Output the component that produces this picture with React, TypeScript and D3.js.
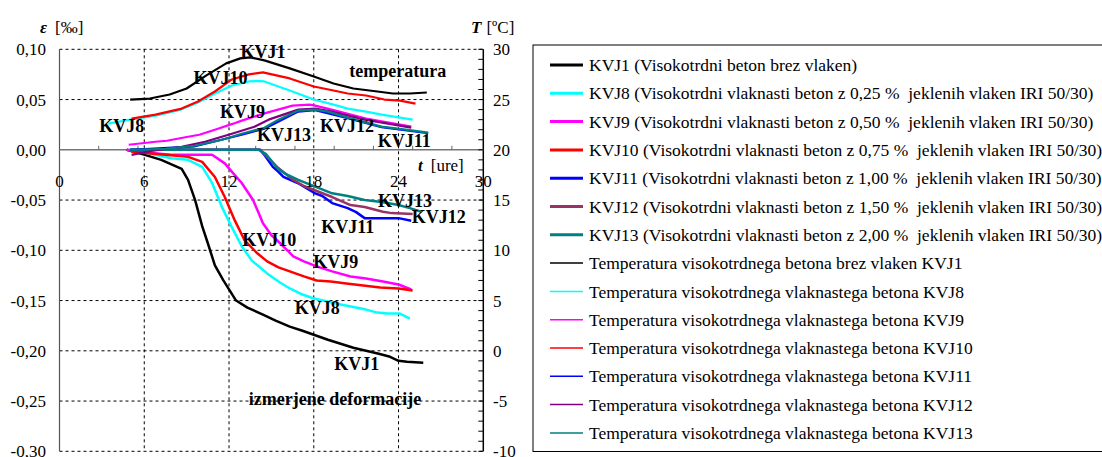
import React from "react";
import * as d3 from "d3";

type P = [number, number];

// ---- Data (t in hours; strain in ‰; temperature in °C) ----
const strainKVJ1: P[] = [[4.75,0],[6.05,-0.005],[7.2,-0.010],[8.65,-0.019],[9.1,-0.030],[9.6,-0.050],[10.1,-0.076],[10.5,-0.093],[11.0,-0.115],[11.6,-0.130],[12.5,-0.150],[13.3,-0.157],[14.4,-0.164],[15.3,-0.170],[16.3,-0.176],[17.2,-0.180],[18.0,-0.184],[19.0,-0.189],[19.9,-0.193],[20.8,-0.197],[21.7,-0.200],[22.6,-0.203],[23.4,-0.206],[24.0,-0.210],[24.6,-0.211],[25.75,-0.212]];
const strainKVJ8: P[] = [[4.9,0],[6.3,-0.0035],[7.9,-0.0085],[9.1,-0.010],[10.1,-0.017],[10.8,-0.033],[11.5,-0.057],[12.2,-0.077],[12.9,-0.096],[13.6,-0.110],[14.7,-0.123],[15.5,-0.131],[16.3,-0.138],[17.2,-0.144],[18.0,-0.148],[19.0,-0.151],[19.9,-0.154],[21.7,-0.159],[22.5,-0.162],[23.2,-0.163],[24.1,-0.163],[24.8,-0.168]];
const strainKVJ9: P[] = [[4.75,0],[6.3,-0.003],[7.9,-0.005],[10.8,-0.005],[11.7,-0.0135],[12.3,-0.0235],[12.9,-0.033],[13.7,-0.050],[14.1,-0.063],[14.4,-0.073],[15.0,-0.085],[15.4,-0.090],[16.55,-0.106],[17.3,-0.111],[18.2,-0.116],[19.3,-0.121],[20.6,-0.126],[21.7,-0.128],[22.9,-0.131],[24.0,-0.134],[24.9,-0.139]];
const strainKVJ10: P[] = [[5.1,-0.002],[7.5,-0.005],[9.1,-0.007],[10.1,-0.012],[11.0,-0.027],[11.7,-0.047],[12.4,-0.070],[13.1,-0.090],[14.0,-0.103],[14.7,-0.111],[15.5,-0.117],[16.3,-0.121],[17.3,-0.126],[18.2,-0.130],[19.2,-0.131],[20.3,-0.133],[21.5,-0.135],[22.7,-0.137],[24.0,-0.138],[25.0,-0.140]];
const strainKVJ11: P[] = [[5.0,0],[14.2,0],[14.5,-0.005],[15.1,-0.017],[15.5,-0.022],[15.85,-0.027],[16.9,-0.0333],[18.1,-0.0433],[18.6,-0.046],[19.3,-0.053],[20.4,-0.058],[21.0,-0.062],[21.6,-0.068],[24.0,-0.068],[24.9,-0.0705]];
const strainKVJ12: P[] = [[5.0,0],[14.2,0],[15.4,-0.017],[16.55,-0.030],[17.3,-0.036],[18.2,-0.041],[19.3,-0.047],[20.6,-0.055],[21.6,-0.057],[22.9,-0.0616],[23.5,-0.063],[25.0,-0.064]];
const strainKVJ13: P[] = [[5.0,0],[14.1,0],[14.6,-0.004],[15.4,-0.018],[16.0,-0.024],[16.9,-0.030],[18.1,-0.0367],[19.3,-0.0433],[20.4,-0.046],[21.6,-0.050],[22.8,-0.052],[24.0,-0.055],[24.8,-0.058],[25.6,-0.0616]];

const tempKVJ1: P[] = [[5.0,25.0],[6.4,25.1],[7.8,25.5],[9.0,26.1],[10.4,27.4],[11.8,28.6],[12.8,29.1],[13.5,29.2],[14.5,28.9],[16.3,28.1],[18.0,27.3],[19.4,26.6],[20.8,26.1],[22.5,25.8],[23.6,25.6],[24.8,25.6],[26.0,25.7]];
const tempKVJ8: P[] = [[3.45,22.6],[5.0,23.0],[6.8,23.4],[8.6,24.0],[9.8,24.7],[11.0,25.6],[12.2,26.4],[13.4,26.8],[14.0,26.85],[14.5,26.8],[16.3,25.9],[18.0,25.0],[19.4,24.5],[20.4,24.1],[21.7,23.8],[22.8,23.5],[25.0,23.0]];
const tempKVJ9: P[] = [[4.9,20.5],[6.8,20.8],[7.6,20.9],[9.1,21.3],[9.9,21.5],[11.0,22.0],[12.3,22.6],[12.9,22.9],[14.7,23.7],[16.5,24.4],[17.7,24.5],[18.1,24.4],[19.4,23.95],[21.7,23.1],[24.9,22.3]];
const tempKVJ10: P[] = [[5.1,23.1],[6.8,23.5],[8.65,24.1],[9.8,24.8],[11.0,25.8],[12.2,27.0],[13.4,27.5],[14.4,27.7],[16.3,27.1],[18.0,26.3],[19.4,25.9],[20.4,25.6],[21.7,25.4],[23.0,25.0],[24.1,24.9],[25.2,24.6]];
const tempKVJ11: P[] = [[5.1,20.0],[9.6,20.35],[12.9,21.5],[14.5,22.1],[16.9,23.8],[18.1,23.95],[20.4,23.15],[22.8,22.25],[26.1,21.65]];
const tempKVJ12: P[] = [[5.1,19.5],[6.5,19.9],[8.65,20.3],[10.3,20.8],[12.2,21.6],[13.8,22.3],[14.8,23.0],[16.9,24.0],[18.1,24.1],[19.3,23.8],[21.6,23.0],[24.9,22.2]];
const tempKVJ13: P[] = [[5.1,20.0],[7.5,20.1],[9.6,20.4],[11.5,21.0],[12.9,21.6],[14.5,22.2],[15.5,23.0],[16.9,23.9],[18.1,24.0],[19.0,23.8],[20.4,23.2],[22.8,22.3],[24.5,22.0],[26.1,21.7]];

const strainColors = ["#000000","#00FFFF","#FF00FF","#FF0000","#0000FF","#993366","#008080"];
const tempColors = ["#000000","#00FFFF","#FF00FF","#FF0000","#0000FF","#800080","#008080"];
const strainData = [strainKVJ1,strainKVJ8,strainKVJ9,strainKVJ10,strainKVJ11,strainKVJ12,strainKVJ13];
const tempData = [tempKVJ1,tempKVJ8,tempKVJ9,tempKVJ10,tempKVJ11,tempKVJ12,tempKVJ13];

const strainLegend = [
  "KVJ1 (Visokotrdni beton brez vlaken)",
  "KVJ8 (Visokotrdni vlaknasti beton z 0,25 %  jeklenih vlaken IRI 50/30)",
  "KVJ9 (Visokotrdni vlaknasti beton z 0,50 %  jeklenih vlaken IRI 50/30)",
  "KVJ10 (Visokotrdni vlaknasti beton z 0,75 %  jeklenih vlaken IRI 50/30)",
  "KVJ11 (Visokotrdni vlaknasti beton z 1,00 %  jeklenih vlaken IRI 50/30)",
  "KVJ12 (Visokotrdni vlaknasti beton z 1,50 %  jeklenih vlaken IRI 50/30)",
  "KVJ13 (Visokotrdni vlaknasti beton z 2,00 %  jeklenih vlaken IRI 50/30)",
];
const tempLegend = [
  "Temperatura visokotrdnega betona brez vlaken KVJ1",
  "Temperatura visokotrdnega vlaknastega betona KVJ8",
  "Temperatura visokotrdnega vlaknastega betona KVJ9",
  "Temperatura visokotrdnega vlaknastega betona KVJ10",
  "Temperatura visokotrdnega vlaknastega betona KVJ11",
  "Temperatura visokotrdnega vlaknastega betona KVJ12",
  "Temperatura visokotrdnega vlaknastega betona KVJ13",
];

const xTicks = [0, 6, 12, 18, 24, 30];
const yTicks = [0.10, 0.05, 0.00, -0.05, -0.10, -0.15, -0.20, -0.25, -0.30];
const tTicks = [30, 25, 20, 15, 10, 5, 0, -5, -10];

// in-plot labels: [text, t, strain]
const curveLabels: [string, number, number][] = [
  ["KVJ1", 14.4, 0.0975],
  ["KVJ10", 11.4, 0.0715],
  ["temperatura", 23.95, 0.0785],
  ["KVJ8", 4.4, 0.0235],
  ["KVJ9", 12.95, 0.0375],
  ["KVJ13", 15.9, 0.0155],
  ["KVJ12", 20.35, 0.0235],
  ["KVJ11", 24.4, 0.0095],
  ["KVJ13", 24.45, -0.0505],
  ["KVJ12", 26.85, -0.0665],
  ["KVJ11", 20.4, -0.0765],
  ["KVJ10", 14.85, -0.0895],
  ["KVJ9", 19.55, -0.1115],
  ["KVJ8", 18.25, -0.1575],
  ["KVJ1", 21.05, -0.2125],
  ["izmerjene deformacije", 19.5, -0.2475],
];

const W = 1102, H = 457;
const FONT = "'Liberation Serif', 'Times New Roman', 'DejaVu Serif', serif";

export default function App() {
  const x = d3.scaleLinear().domain([0, 30]).range([59.5, 483.3]);
  const y = d3.scaleLinear().domain([-0.30, 0.10]).range([451.3, 49.3]);
  const yT = d3.scaleLinear().domain([-10, 30]).range([451.3, 49.3]);
  const strainLine = d3.line<P>().x(d => x(d[0])).y(d => y(d[1]));
  const tempLine = d3.line<P>().x(d => x(d[0])).y(d => yT(d[1]));

  const minorX = d3.range(1, 11).map(k => (k * 10000) / 3600);
  const minorT = d3.range(-10, 31, 1);

  const legX = 533, legTop = 45, legBottom = 451.5, rowY0 = 65, rowStep = 28.3;

  return (
    <div style={{ position: "absolute", left: 0, top: 0, fontFamily: FONT }}>
      <svg width={W} height={H} style={{ display: "block", background: "#fff", fontFamily: FONT }}>
        {/* grid lines */}
        {yTicks.filter(v => v !== 0).map(v => (
          <line key={"gy" + v} x1={x(0)} x2={x(30)} y1={y(v)} y2={y(v)} stroke="#000" strokeWidth={1} strokeDasharray="3,3" />
        ))}
        {xTicks.filter(v => v !== 0 && v !== 30).map(v => (
          <line key={"gx" + v} x1={x(v)} x2={x(v)} y1={y(0.10)} y2={y(-0.30)} stroke="#000" strokeWidth={1} strokeDasharray="3,3" />
        ))}
        {/* axes */}
        <line x1={x(0)} x2={x(0)} y1={y(0.10)} y2={y(-0.30)} stroke="#555" strokeWidth={1.2} />
        <line x1={x(30)} x2={x(30)} y1={y(0.10)} y2={y(-0.30)} stroke="#000" strokeWidth={1.5} />
        <line x1={x(0)} x2={x(30)} y1={y(0)} y2={y(0)} stroke="#777" strokeWidth={1.5} />
        {minorX.map(v => (
          <line key={"mx" + v} x1={x(v)} x2={x(v)} y1={y(0)} y2={y(0) - 4} stroke="#666" strokeWidth={1} />
        ))}
        {minorT.map(v => (
          <line key={"mt" + v} x1={x(30) - 5} x2={x(30)} y1={yT(v)} y2={yT(v)} stroke="#000" strokeWidth={1} />
        ))}

        {/* strain curves */}
        {strainData.map((d, i) => (
          <path key={"s" + i} d={strainLine(d) || ""} fill="none" stroke={strainColors[i]} strokeWidth={2.5} strokeLinejoin="round" />
        ))}
        {/* temperature curves */}
        {tempData.map((d, i) => (
          <path key={"t" + i} d={tempLine(d) || ""} fill="none" stroke={tempColors[i]} strokeWidth={2.2} strokeLinejoin="round" />
        ))}

        {/* tick labels */}
        {yTicks.map(v => (
          <text key={"yl" + v} x={46} y={y(v)} dy="0.35em" textAnchor="end" fontSize={17} fontFamily={FONT}>
            {(v < 0 ? "-" : "") + d3.format(".2f")(Math.abs(v)).replace(".", ",")}
          </text>
        ))}
        {tTicks.map(v => (
          <text key={"tl" + v} x={493} y={yT(v)} dy="0.35em" textAnchor="start" fontSize={17} fontFamily={FONT}>
            {String(v)}
          </text>
        ))}
        {xTicks.map(v => (
          <text key={"xl" + v} x={x(v)} y={y(0) + 31} dy="0.35em" textAnchor="middle" fontSize={17} fontFamily={FONT}>
            {String(v)}
          </text>
        ))}

        {/* axis titles */}
        <text x={40} y={27} dy="0.35em" fontSize={17} fontFamily={FONT}>
          <tspan fontWeight="bold" fontStyle="italic">ε</tspan>
          <tspan dx={8}>[‰]</tspan>
        </text>
        <text x={471} y={27} dy="0.35em" fontSize={17} fontFamily={FONT}>
          <tspan fontWeight="bold" fontStyle="italic">T</tspan>
          <tspan dx={5}>[ºC]</tspan>
        </text>
        <text x={418} y={165} dy="0.35em" fontSize={17} fontFamily={FONT}>
          <tspan fontWeight="bold" fontStyle="italic">t</tspan>
          <tspan dx={8}>[ure]</tspan>
        </text>

        {/* curve labels */}
        {curveLabels.map(([s, t, v], i) => (
          <text key={"cl" + i} x={x(t)} y={y(v)} dy="0.35em" textAnchor="middle" fontSize={18} fontWeight="bold" fontFamily={FONT}>
            {s}
          </text>
        ))}

        {/* legend */}
        <rect x={legX} y={legTop} width={W - legX + 20} height={legBottom - legTop} fill="#fff" stroke="#000" strokeWidth={1} />
        {strainLegend.map((s, i) => {
          const yy = rowY0 + i * rowStep;
          return (
            <g key={"ls" + i}>
              <line x1={550} x2={583} y1={yy} y2={yy} stroke={strainColors[i]} strokeWidth={3} />
              <text x={589} y={yy} dy="0.35em" fontSize={17.5} fontFamily={FONT} style={{ whiteSpace: "pre" }}>{s}</text>
            </g>
          );
        })}
        {tempLegend.map((s, i) => {
          const yy = rowY0 + (i + 7) * rowStep;
          return (
            <g key={"lt" + i}>
              <line x1={550} x2={583} y1={yy} y2={yy} stroke={tempColors[i]} strokeWidth={1.5} />
              <text x={589} y={yy} dy="0.35em" fontSize={17.5} fontFamily={FONT}>{s}</text>
            </g>
          );
        })}
      </svg>
    </div>
  );
}
